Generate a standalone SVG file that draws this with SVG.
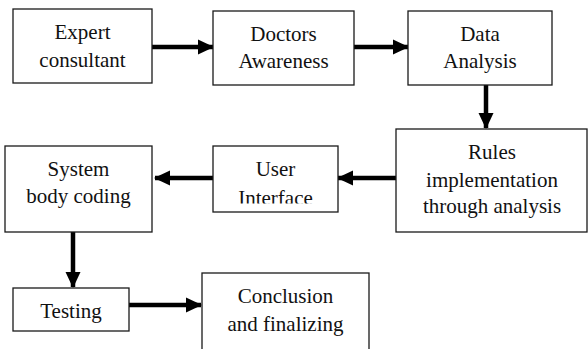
<svg xmlns="http://www.w3.org/2000/svg" width="588" height="349" viewBox="0 0 588 349">
<style>
.box{fill:#fff;stroke:#1a1a1a;stroke-width:1.3}
.t{font-family:"Liberation Serif",Tinos,"Times New Roman",Times,"Nimbus Roman","Nimbus Roman No9 L",FreeSerif,"Noto Serif","DejaVu Serif",Georgia,serif;font-size:21px;fill:#111;text-anchor:middle}
.c{stroke:#000;stroke-width:4.5;fill:none}
</style>
<defs>
<marker id="ah" markerUnits="userSpaceOnUse" markerWidth="16" markerHeight="16" viewBox="0 0 16 16" refX="15" refY="8" orient="auto">
<path d="M0,0.5 L16,8 L0,15.5 Z" fill="#000"/>
</marker>
<clipPath id="uiclip"><rect x="213" y="146" width="125" height="57.5"/></clipPath>
</defs>
<rect width="588" height="349" fill="#fff"/>
<g id="connectors">
<line class="c" x1="152" y1="47" x2="213" y2="47" marker-end="url(#ah)"/>
<line class="c" x1="354" y1="47" x2="408" y2="47" marker-end="url(#ah)"/>
<line class="c" x1="486" y1="85" x2="486" y2="128" marker-end="url(#ah)"/>
<line class="c" x1="396" y1="178" x2="338" y2="178" marker-end="url(#ah)"/>
<line class="c" x1="213" y1="178" x2="155" y2="178" marker-end="url(#ah)"/>
<line class="c" x1="73" y1="232" x2="73" y2="287" marker-end="url(#ah)"/>
<line class="c" x1="129" y1="305" x2="201" y2="305" marker-end="url(#ah)"/>
</g>
<g id="expert">
<rect class="box" x="13" y="9" width="139" height="74"/>
<text class="t" x="82.5" y="39">Expert</text>
<text class="t" x="82.5" y="67">consultant</text>
</g>
<g id="doctors">
<rect class="box" x="213" y="11" width="141" height="74"/>
<text class="t" x="283.5" y="41">Doctors</text>
<text class="t" x="283.5" y="68">Awareness</text>
</g>
<g id="data">
<rect class="box" x="408" y="11" width="144" height="74"/>
<text class="t" x="480" y="41">Data</text>
<text class="t" x="480" y="68">Analysis</text>
</g>
<g id="rules">
<rect class="box" x="396" y="129" width="191" height="103"/>
<text class="t" x="492" y="159">Rules</text>
<text class="t" x="492" y="187">implementation</text>
<text class="t" x="492" y="213">through analysis</text>
</g>
<g id="user">
<rect class="box" x="213" y="146" width="125" height="66"/>
<text class="t" x="275.5" y="176">User</text>
<text class="t" x="275.5" y="205" clip-path="url(#uiclip)">Interface</text>
</g>
<g id="system">
<rect class="box" x="5" y="146" width="147" height="86"/>
<text class="t" x="78.5" y="176">System</text>
<text class="t" x="78.5" y="203">body coding</text>
</g>
<g id="testing">
<rect class="box" x="13" y="288" width="116" height="43"/>
<text class="t" x="71" y="318">Testing</text>
</g>
<g id="conclusion">
<rect class="box" x="202" y="273" width="167" height="90"/>
<text class="t" x="285.5" y="303">Conclusion</text>
<text class="t" x="285.5" y="331">and finalizing</text>
</g>
</svg>
